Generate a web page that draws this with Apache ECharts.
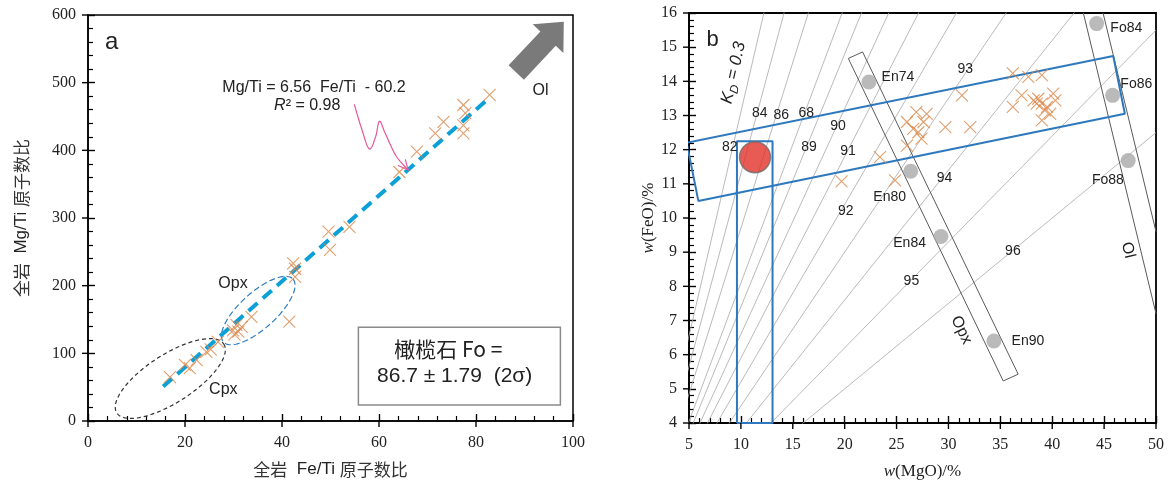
<!DOCTYPE html>
<html>
<head>
<meta charset="utf-8">
<script src="https://cdn.jsdelivr.net/npm/echarts@6/dist/echarts.min.js"></script>
<style>
  html, body { margin: 0; padding: 0; background: #fff; }
  #chart { width: 1169px; height: 486px; }
</style>
</head>
<body>
<div id="chart"></div>
<script>
// ---- panel a: whole-rock Fe/Ti vs Mg/Ti (atomic ratio) ----
const feTi = [16.9, 20.0, 21.0, 22.4, 24.4, 25.3, 26.8, 29.9, 30.2, 30.6, 31.0, 31.7, 33.7, 41.5, 42.3, 42.7, 42.7,
  49.6, 49.9, 53.9, 64.2, 67.8, 71.6, 73.3, 77.4, 77.8, 77.4, 77.4, 82.8];
const mgTi = [65, 83, 78, 90, 102, 106, 117, 134, 128, 142, 132, 139, 154, 147, 233, 225, 213,
  280, 253, 287, 368, 398, 425, 442, 467, 455, 437, 425, 482];
const fitEnds = [[15.5, 51], [82.8, 478]];
const cpxEllipse = [16.97, 62.8, 28.0, 113.7];   // centre x, y, end of long axis x, y
const opxEllipse = [35.1, 163.2, 42.27, 209.7];
const olArrow = [88.3, 515, 98.1, 590];          // tail x, y, tip x, y
const pinkArrow = [[54.9, 468], [56.5, 430], [58.0, 402], [59.3, 420], [60.1, 443], [61.3, 425], [63.5, 392], [66.0, 371]];
const foBox = [55.75, 138.4, 97.4, 23.6];

// ---- panel b: w(MgO) vs w(FeO) ----
const mgo = [19.7, 23.4, 24.85, 26.0, 26.9, 27.9, 26.0, 26.6, 27.4, 27.1, 27.6, 29.7, 32.1, 31.3,
  36.2, 37.7, 39.0, 37.05, 36.2, 38.2, 38.65, 39.0, 40.1, 40.3, 39.3, 39.8, 39.0, 39.5, 38.5];
const feo = [11.07, 11.78, 11.1, 12.12, 13.1, 13.05, 12.81, 12.61, 12.32, 12.51, 12.81, 12.66, 12.66, 13.59,
  14.23, 14.13, 14.18, 13.59, 13.25, 13.44, 13.49, 13.35, 13.64, 13.44, 13.15, 13.05, 12.86, 13.25, 13.35];
const melt = [11.36, 11.78];
const opxNames = ['En74', 'En80', 'En84', 'En90'];
const opxMgO = [22.34, 26.36, 29.28, 34.38];
const opxFeO = [13.98, 11.37, 9.46, 6.4];
const olNames = ['Fo84', 'Fo86', 'Fo88'];
const olMgO = [44.28, 45.82, 47.32];
const olFeO = [15.69, 13.59, 11.68];
const foValues = [82, 84, 86, 88, 89, 90, 91, 92, 93, 94, 95, 96];
const foSlopes = [1.31, 1.13, 0.97, 0.81, 0.74, 0.66, 0.59, 0.52, 0.45, 0.38, 0.31, 0.25]; // FeO/MgO of the isopleth
const bandRect = [[4.78, 12.2], [45.88, 14.74], [47.0, 13.05], [5.9, 10.5], [4.78, 12.2]];
const meltRect = [[9.62, 4], [9.62, 12.25], [13.05, 12.25], [13.05, 4], [9.62, 4]];
const opxRect = [[20.35, 14.67], [21.73, 14.86], [36.72, 5.43], [35.28, 5.23], [20.35, 14.67]];
const olLeft = [[43.0, 16], [50, 7.2]];
const olRight = [[44.9, 16], [50, 9.6]];

// text annotations, placed in data coordinates
const aNotes = [
  { t: 'a', p: [4.9, 560], s: 24 },
  { t: 'Mg/Ti = 6.56  Fe/Ti  - 60.2', p: [46.6, 493], s: 16 },
  { t: '{i|R}² = 0.98', p: [45.2, 466], s: 16 },
  { t: 'Opx', p: [29.9, 203], s: 16 },
  { t: 'Cpx', p: [27.9, 47], s: 16 },
  { t: 'Ol', p: [93.3, 489], s: 16 },
  { t: '橄榄石 Fo =', p: [74.3, 107], s: 21 },
  { t: '86.7 ± 1.79  (2σ)', p: [75.6, 66], s: 21 }
];
const bNotes = [
  { t: 'b', p: [7.28, 15.22], s: 22 },
  { t: '84', p: [11.81, 13.08] }, { t: '86', p: [13.9, 13.02] }, { t: '68', p: [16.31, 13.08] },
  { t: '82', p: [8.92, 12.06] }, { t: '89', p: [16.56, 12.06] }, { t: '90', p: [19.35, 12.68] },
  { t: '91', p: [20.32, 11.95] }, { t: '92', p: [20.1, 10.19] }, { t: '93', p: [31.63, 14.37] },
  { t: '94', p: [29.63, 11.17] }, { t: '95', p: [26.43, 8.16] }, { t: '96', p: [36.21, 9.04] },
  { t: 'En74', p: [25.13, 14.12] }, { t: 'En80', p: [24.34, 10.6] }, { t: 'En84', p: [26.26, 9.26] },
  { t: 'En90', p: [37.66, 6.4] }, { t: 'Fo84', p: [47.14, 15.55] }, { t: 'Fo86', p: [48.1, 13.92] },
  { t: 'Fo88', p: [45.37, 11.12] },
  { t: 'Opx', p: [31.24, 6.72], s: 16, r: -1.12 },
  { t: 'Ol', p: [47.3, 9.06], s: 16, r: -1.34 },
  { t: '{k|K}{d|D}{k| = 0.3}', p: [9.3, 14.25], s: 17, r: 1.35 }
];

const SANS = '"Liberation Sans", Arial, sans-serif';
const SERIF = '"Liberation Serif", "Times New Roman", serif';
const CJK = '"Noto Sans CJK SC", sans-serif';
const ORANGE = '#d9874a';
const BLUE = '#2e78bd';

const chart = echarts.init(document.getElementById('chart'));

function mainX(grid, min, max, interval, name, nameStyle) {
  return {
    gridIndex: grid, type: 'value', min: min, max: max, interval: interval, position: 'bottom',
    axisLine: { show: true, onZero: false, lineStyle: { color: '#000', width: 1.5 } },
    axisTick: { show: true, inside: true, length: 7, lineStyle: { color: '#000', width: 1.4 } },
    minorTick: { show: true, splitNumber: 5, length: 5, lineStyle: { color: '#000', width: 1.2 } },
    splitLine: { show: false },
    axisLabel: { fontFamily: SERIF, fontSize: 16, color: '#222', margin: 14 },
    name: name, nameLocation: 'middle', nameGap: 40, nameTextStyle: nameStyle
  };
}
function mainY(grid, min, max, interval, name, gap, nameStyle) {
  return {
    gridIndex: grid, type: 'value', min: min, max: max, interval: interval, position: 'left',
    axisLine: { show: true, onZero: false, lineStyle: { color: '#000', width: 1.5 } },
    axisTick: { show: true, inside: true, length: 7, lineStyle: { color: '#000', width: 1.4 } },
    minorTick: { show: true, splitNumber: 5, length: 5, lineStyle: { color: '#000', width: 1.2 } },
    splitLine: { show: false },
    axisLabel: { fontFamily: SERIF, fontSize: 16, color: '#222', margin: 12 },
    name: name, nameLocation: 'middle', nameGap: gap, nameRotate: 90, nameTextStyle: nameStyle
  };
}

// outward stub of each major tick, placed through the axis scale
function tickSeries(gi, dim, min, max, step, otherMin) {
  return {
    type: 'custom', coordinateSystem: 'cartesian2d', xAxisIndex: gi, yAxisIndex: gi, z: 8, silent: true, clip: false,
    data: [dim === 'x' ? [min, otherMin] : [otherMin, min]],
    renderItem: (params, api) => {
      const children = [];
      const n = Math.round((max - min) / step);
      for (let k = 0; k <= n; k++) {
        const v = min + k * step;
        if (dim === 'x') {
          const p = api.coord([v, otherMin]);
          children.push({ type: 'line', shape: { x1: p[0], y1: p[1], x2: p[0], y2: p[1] + 6 }, style: { stroke: '#000', lineWidth: 1.4 } });
        } else {
          const p = api.coord([otherMin, v]);
          children.push({ type: 'line', shape: { x1: p[0] - 6, y1: p[1], x2: p[0], y2: p[1] }, style: { stroke: '#000', lineWidth: 1.4 } });
        }
      }
      return { type: 'group', children: children };
    }
  };
}

const cnName = {
  fontFamily: SANS, fontSize: 17, color: '#222',
  rich: { c: { fontFamily: CJK, fontSize: 17, color: '#333' }, s: { fontFamily: SANS, fontSize: 17, color: '#222' } }
};
const wName = {
  fontFamily: SERIF, fontSize: 17, color: '#222',
  rich: { i: { fontFamily: SERIF, fontStyle: 'italic', fontSize: 17, color: '#222' } }
};

function notesSeries(notes, gi) {
  return {
    type: 'custom', coordinateSystem: 'cartesian2d', xAxisIndex: gi, yAxisIndex: gi, z: 10, silent: true, clip: false,
    data: notes.map((n, i) => [n.p[0], n.p[1], i]),
    renderItem: (params, api) => {
      const n = notes[api.value(2)];
      const c = api.coord([api.value(0), api.value(1)]);
      const size = n.s || 14;
      const italic = n.t.indexOf('{k|') === 0;
      return {
        type: 'text', x: c[0], y: c[1], rotation: n.r || 0,
        style: {
          text: n.t, fill: '#222', align: 'center', verticalAlign: 'middle',
          font: (italic ? 'italic ' : '') + size + 'px ' + (n.t.match(/[橄榄]/) ? CJK : SANS),
          rich: {
            i: { fontStyle: 'italic', fontSize: size, fontFamily: SANS, fill: '#222' },
            k: { fontStyle: 'italic', fontSize: size, fontFamily: SANS, fill: '#222', lineHeight: 22, verticalAlign: 'middle' },
            d: { fontStyle: 'italic', fontSize: 12, fontFamily: SANS, fill: '#222', lineHeight: 22, verticalAlign: 'bottom' }
          }
        }
      };
    }
  };
}

function ellipseSeries(row, minor, color, dash) {
  return {
    type: 'custom', coordinateSystem: 'cartesian2d', xAxisIndex: 0, yAxisIndex: 0, z: 3, silent: true, clip: false,
    data: [row],
    renderItem: (params, api) => {
      const c = api.coord([api.value(0), api.value(1)]);
      const e = api.coord([api.value(2), api.value(3)]);
      const a = Math.hypot(e[0] - c[0], e[1] - c[1]);
      const ang = Math.atan2(e[1] - c[1], e[0] - c[0]);
      const pts = [];
      for (let i = 0; i <= 120; i++) {
        const t = i / 120 * 2 * Math.PI;
        const u = a * Math.cos(t), v = minor * Math.sin(t);
        pts.push([c[0] + u * Math.cos(ang) - v * Math.sin(ang), c[1] + u * Math.sin(ang) + v * Math.cos(ang)]);
      }
      return { type: 'polyline', shape: { points: pts }, style: { fill: 'none', stroke: color, lineWidth: 1.2, lineDash: dash } };
    }
  };
}

function polyLine(data, gi, color, width, z, clip) {
  return {
    type: 'line', xAxisIndex: gi, yAxisIndex: gi, data: data, symbol: 'none', silent: true, z: z,
    clip: clip, lineStyle: { color: color, width: width }, animation: false
  };
}

const crossSymbol = 'path://M0,0L10,10M10,0L0,10';

const series = [
  // ---------- panel a ----------
  tickSeries(0, 'x', 0, 100, 20, 0),
  tickSeries(0, 'y', 0, 600, 100, 0),
  ellipseSeries(cpxEllipse, 24, '#333', [4, 3]),
  ellipseSeries(opxEllipse, 18, '#2f7ec4', [6, 3]),
  {
    type: 'line', xAxisIndex: 0, yAxisIndex: 0, data: fitEnds, symbol: 'none', silent: true, z: 4,
    lineStyle: { color: '#0ca0d8', width: 4, type: [12, 7] }
  },
  {
    type: 'scatter', xAxisIndex: 0, yAxisIndex: 0, z: 5, symbol: crossSymbol, symbolSize: 12,
    data: feTi.map((v, i) => [v, mgTi[i]]),
    itemStyle: { color: 'transparent', borderColor: ORANGE, borderWidth: 1.1 }
  },
  {
    type: 'custom', coordinateSystem: 'cartesian2d', xAxisIndex: 0, yAxisIndex: 0, z: 6, silent: true, clip: false,
    data: [olArrow],
    renderItem: (params, api) => {
      const b = api.coord([api.value(0), api.value(1)]);
      const t = api.coord([api.value(2), api.value(3)]);
      const L = Math.hypot(t[0] - b[0], t[1] - b[1]);
      const ux = (t[0] - b[0]) / L, uy = (t[1] - b[1]) / L, nx = -uy, ny = ux;
      const hl = 23, hw = 21, bw = 10.5;
      const h = [t[0] - ux * hl, t[1] - uy * hl];
      return {
        type: 'polygon',
        shape: { points: [
          [b[0] + nx * bw, b[1] + ny * bw], [h[0] + nx * bw, h[1] + ny * bw], [h[0] + nx * hw, h[1] + ny * hw],
          t, [h[0] - nx * hw, h[1] - ny * hw], [h[0] - nx * bw, h[1] - ny * bw], [b[0] - nx * bw, b[1] - ny * bw]
        ] },
        style: { fill: '#7a7a7a', stroke: 'none' }
      };
    }
  },
  {
    type: 'custom', coordinateSystem: 'cartesian2d', xAxisIndex: 0, yAxisIndex: 0, z: 6, silent: true, clip: false,
    data: [[0, 0]],
    renderItem: (params, api) => {
      const p = pinkArrow.map(d => api.coord(d));
      const pts = [];
      for (let i = 0; i < p.length - 1; i++) {
        const p0 = p[Math.max(i - 1, 0)], p1 = p[i], p2 = p[i + 1], p3 = p[Math.min(i + 2, p.length - 1)];
        for (let k = 0; k < 12; k++) {
          const t = k / 12, t2 = t * t, t3 = t2 * t;
          pts.push([0, 1].map(j => 0.5 * (2 * p1[j] + (-p0[j] + p2[j]) * t +
            (2 * p0[j] - 5 * p1[j] + 4 * p2[j] - p3[j]) * t2 + (-p0[j] + 3 * p1[j] - 3 * p2[j] + p3[j]) * t3)));
        }
      }
      const tip = p[p.length - 1], prev = p[p.length - 2];
      pts.push(tip);
      const ang = Math.atan2(tip[1] - prev[1], tip[0] - prev[0]);
      const head = [-0.45, 0.45].map(da => [tip[0] - 11 * Math.cos(ang + da), tip[1] - 11 * Math.sin(ang + da)]);
      return {
        type: 'group', children: [
          { type: 'polyline', shape: { points: pts }, style: { fill: 'none', stroke: '#e4589c', lineWidth: 1.2 } },
          { type: 'polyline', shape: { points: [head[0], tip, head[1]] }, style: { fill: 'none', stroke: '#e4589c', lineWidth: 1.2 } }
        ]
      };
    }
  },
  {
    type: 'custom', coordinateSystem: 'cartesian2d', xAxisIndex: 0, yAxisIndex: 0, z: 7, silent: true, clip: false,
    data: [foBox],
    renderItem: (params, api) => {
      const p1 = api.coord([api.value(0), api.value(1)]);
      const p2 = api.coord([api.value(2), api.value(3)]);
      return {
        type: 'rect', shape: { x: p1[0], y: p1[1], width: p2[0] - p1[0], height: p2[1] - p1[1] },
        style: { fill: '#fff', stroke: '#8a8a8a', lineWidth: 1.5 }
      };
    }
  },
  notesSeries(aNotes, 0),

  // ---------- panel b ----------
  tickSeries(1, 'x', 5, 50, 5, 4),
  tickSeries(1, 'y', 4, 16, 1, 5),
  ...foSlopes.map(k => polyLine([[0, 0], [50, 50 * k]], 1, '#a8a8a8', 0.8, 1, true)),
  polyLine(opxRect, 1, '#5a5a5a', 1, 2, false),
  polyLine(olLeft, 1, '#5a5a5a', 1, 2, false),
  polyLine(olRight, 1, '#5a5a5a', 1, 2, false),
  polyLine(bandRect, 1, BLUE, 2, 3, false),
  polyLine(meltRect, 1, BLUE, 2, 3, false),
  {
    type: 'scatter', xAxisIndex: 1, yAxisIndex: 1, z: 4, symbol: crossSymbol, symbolSize: 12,
    data: mgo.map((v, i) => [v, feo[i]]),
    itemStyle: { color: 'transparent', borderColor: ORANGE, borderWidth: 1.1 }
  },
  {
    type: 'scatter', xAxisIndex: 1, yAxisIndex: 1, z: 5, symbolSize: 15,
    data: opxMgO.map((v, i) => [v, opxFeO[i]]).concat(olMgO.map((v, i) => [v, olFeO[i]])),
    itemStyle: { color: '#a9a9a9' }
  },
  {
    type: 'scatter', xAxisIndex: 1, yAxisIndex: 1, z: 6, symbolSize: 31, data: [melt],
    itemStyle: { color: '#e2322b', borderColor: '#6e6e6e', borderWidth: 1.5 }
  },
  notesSeries(bNotes, 1)
];

const option = {
  animation: false,
  backgroundColor: '#fff',
  grid: [
    { left: 88, top: 15, width: 485, height: 406, show: true, borderColor: '#000', borderWidth: 1.5, backgroundColor: 'transparent' },
    { left: 689, top: 13, width: 467, height: 410, show: true, borderColor: '#000', borderWidth: 1.8, backgroundColor: 'transparent' }
  ],
  xAxis: [
    mainX(0, 0, 100, 20, '{c|全岩}  {s|Fe/Ti} {c|原子数比}', cnName),
    mainX(1, 5, 50, 5, '{i|w}(MgO)/%', wName)
  ],
  yAxis: [
    mainY(0, 0, 600, 100, '{c|全岩}  {s|Mg/Ti} {c|原子数比}', 58, cnName),
    mainY(1, 4, 16, 1, '{i|w}(FeO)/%', 30, wName)
  ],
  series: series
};

chart.setOption(option);
</script>
</body>
</html>
